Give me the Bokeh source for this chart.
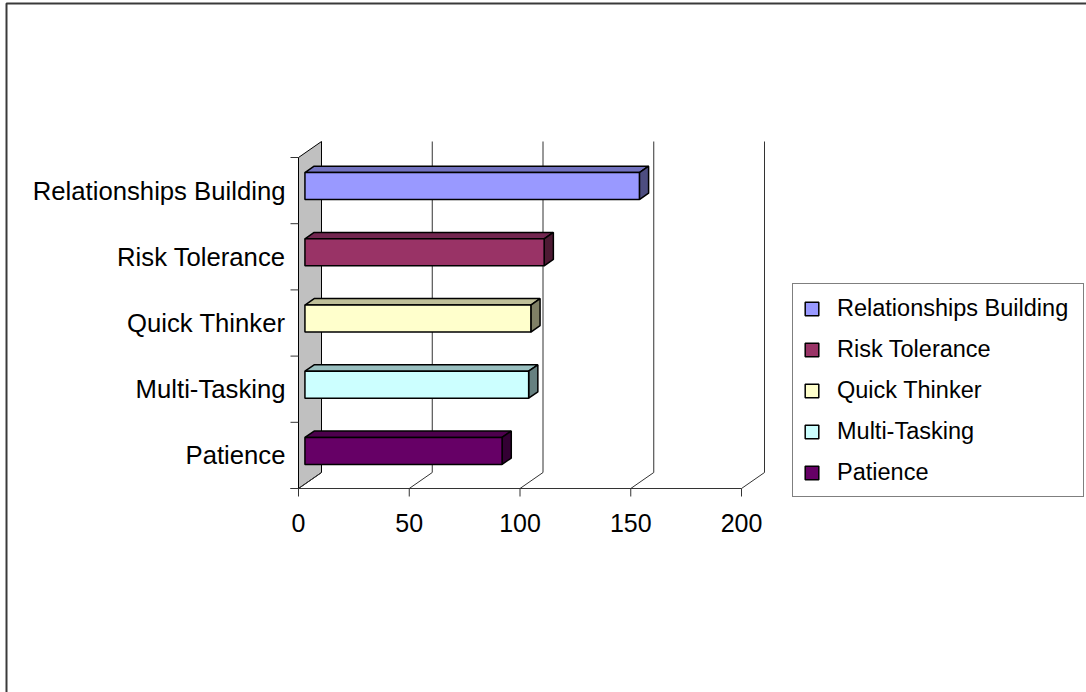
from bokeh.plotting import figure
from bokeh.models import Range1d, ColumnDataSource, Legend, LegendItem
from bokeh.embed import file_html
from bokeh.resources import INLINE
from bokeh.core.properties import value

# ---- data -------------------------------------------------------------
categories = ["Patience", "Multi-Tasking", "Quick Thinker",
              "Risk Tolerance", "Relationships Building"]
scores = [89, 101, 102, 108, 151]
front_colors = ["#660066", "#CCFFFF", "#FFFFCC", "#993366", "#9999FF"]
top_colors = ["#4D004D", "#99BFBF", "#BFBF99", "#732650", "#7373BF"]
side_colors = ["#330033", "#668080", "#808066", "#4D1A33", "#4D4D80"]
x_ticks = [0, 50, 100, 150, 200]
x_tick_labels = ["0", "50", "100", "150", "200"]

# ---- layout of the 3-D box -------------------------------------------
W, H = 1086, 692
X0_PX, Y0_PX = 298, 488          # screen position of value 0 / bottom of axis
PX_X = 443 / 200                 # pixels per value unit
PX_Y = 331 / len(categories)     # pixels per category band
DEPTH_X = 23 / PX_X              # full box depth, in value units
DEPTH_Y = 16 / PX_Y              # full box depth, in category units
D_FRONT, D_BACK = 0.28, 0.68     # depth slice occupied by the bars
HALF_BAR = 0.204                 # half bar thickness (category units)
VMAX = x_ticks[-1]
NCAT = len(categories)
FONT = "Liberation Sans"


def proj(v, c, d):
    """Value/category/depth -> 2-D data coordinates with oblique depth."""
    return v + d * DEPTH_X, c + d * DEPTH_Y


def sx(px):
    return -X0_PX / PX_X + px / PX_X


def sy(py):
    return (Y0_PX - py) / PX_Y


p = figure(width=W, height=H, output_backend="svg", toolbar_location=None,
           x_axis_location=None, y_axis_location=None,
           x_range=Range1d(sx(0), sx(W)), y_range=Range1d(sy(H), sy(0)),
           min_border=0, outline_line_color=None,
           background_fill_color="white", border_fill_color="white")
p.grid.visible = False

# outer chart border (left and top edges)
p.line([sx(6), sx(6), sx(W)], [sy(H), sy(3), sy(3)],
       line_color="#3a3a3a", line_width=2)

# left side wall
wx, wy = zip(proj(0, 0, 0), proj(0, NCAT, 0), proj(0, NCAT, 1), proj(0, 0, 1))
p.patch(list(wx), list(wy), fill_color="#C0C0C0", line_color="black",
        line_width=1)

# back-wall gridlines and floor depth lines
for t in x_ticks:
    bx0, by0 = proj(t, 0, 1)
    bx1, by1 = proj(t, NCAT, 1)
    if t > 0:
        p.line([bx0, bx1], [by0, by1], line_color="#333333", line_width=1)
    fx, fy = proj(t, 0, 0)
    p.line([fx, bx0], [fy, by0], line_color="#333333", line_width=1)

# value axis along the front edge of the floor
tick_len_x = 8 / PX_X
tick_len_y = 8 / PX_Y
p.line([-tick_len_x, VMAX], [0, 0], line_color="#333333", line_width=1)
p.segment(x0=x_ticks, y0=[0] * len(x_ticks), x1=x_ticks,
          y1=[-tick_len_y] * len(x_ticks), line_color="#333333", line_width=1)
p.text(x=x_ticks, y=[0] * len(x_ticks), text=x_tick_labels, y_offset=34,
       text_align="center", text_baseline="middle", text_color="black",
       text_font=value(FONT), text_font_size="25px")

# category axis on the front edge of the wall
bounds = list(range(NCAT + 1))
p.segment(x0=[-tick_len_x] * len(bounds), y0=bounds, x1=[0] * len(bounds),
          y1=bounds, line_color="#333333", line_width=1)
centers = [i + 0.5 for i in range(NCAT)]
p.text(x=[0] * NCAT, y=centers, text=categories, x_offset=-13,
       text_align="right", text_baseline="middle", text_color="black",
       text_font=value(FONT), text_font_size="25.7px")

# ---- 3-D bars ------------------------------------------------------------
front = dict(left=[], right=[], bottom=[], top=[], color=[], label=[])
top_xs, top_ys, side_xs, side_ys = [], [], [], []
for c, v, fc in zip(centers, scores, front_colors):
    lo, hi = c - HALF_BAR, c + HALF_BAR
    l, b = proj(0, lo, D_FRONT)
    r, t = proj(v, hi, D_FRONT)
    front["left"].append(l)
    front["right"].append(r)
    front["bottom"].append(b)
    front["top"].append(t)
    front["color"].append(fc)
    pts = [proj(0, hi, D_FRONT), proj(v, hi, D_FRONT),
           proj(v, hi, D_BACK), proj(0, hi, D_BACK)]
    top_xs.append([q[0] for q in pts])
    top_ys.append([q[1] for q in pts])
    pts = [proj(v, lo, D_FRONT), proj(v, hi, D_FRONT),
           proj(v, hi, D_BACK), proj(v, lo, D_BACK)]
    side_xs.append([q[0] for q in pts])
    side_ys.append([q[1] for q in pts])
front["label"] = categories

p.patches(top_xs, top_ys, fill_color=top_colors, line_color="black",
          line_width=1.5)
p.patches(side_xs, side_ys, fill_color=side_colors, line_color="black",
          line_width=1.5)
bars = p.quad(left="left", right="right", bottom="bottom", top="top",
              fill_color="color", line_color="black", line_width=1.5,
              source=ColumnDataSource(front))

# ---- legend ------------------------------------------------------------
items = [LegendItem(label=categories[i], renderers=[bars], index=i)
         for i in reversed(range(NCAT))]
legend = Legend(items=items, location=(792, H - 497), orientation="vertical",
                glyph_width=17, glyph_height=17, label_standoff=17,
                label_width=236, label_height=28, spacing=13, padding=10,
                margin=0, label_text_font=FONT, label_text_font_size="23.5px",
                label_text_color="black", border_line_color="black",
                border_line_width=1, background_fill_color="white",
                background_fill_alpha=1)
p.add_layout(legend, "center")

open("out.html", "w").write(file_html(p, INLINE))
